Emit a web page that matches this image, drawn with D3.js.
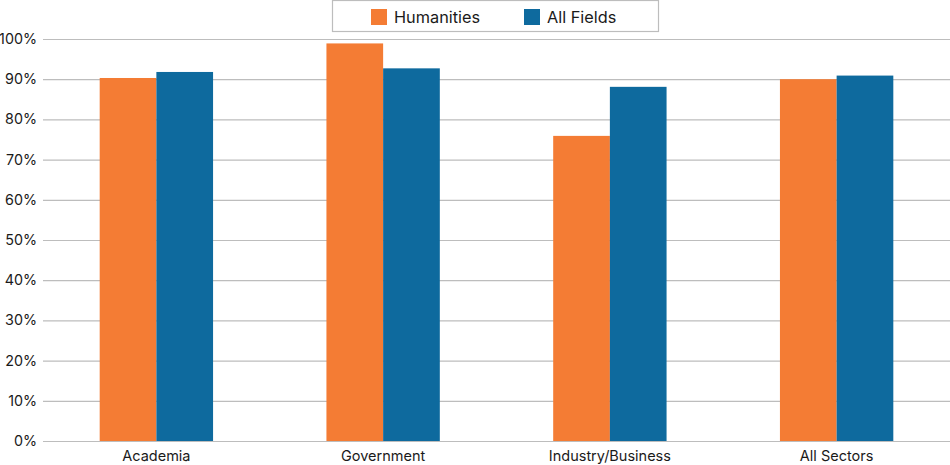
<!DOCTYPE html>
<html><head><meta charset="utf-8">
<script src="https://cdn.jsdelivr.net/npm/d3@7"></script>
<style>
body{margin:0;background:#fff;}
text{font-family:"Inter","Lato",sans-serif;fill:#1a1a1a;}
</style></head>
<body><svg id="c" width="950" height="465"></svg>
<script>
const categories = ["Academia","Government","Industry/Business","All Sectors"];
const seriesNames = ["Humanities","All Fields"];
const humanities = [90.3, 98.9, 75.9, 90.0];
const allFields = [91.8, 92.7, 88.1, 90.9];
const yTicks = [0,10,20,30,40,50,60,70,80,90,100];
const colors = ["#F47C34","#0E6A9E"];

(function(){
const svg = d3.select("#c");
const mLeft = 43, mRight = 950, mTop = 39, mBottom = 441;
const x = d3.scaleBand().domain(categories).range([mLeft,mRight]).paddingInner(0.5).paddingOuter(0.25);
const x1 = d3.scaleBand().domain(seriesNames).range([0,x.bandwidth()]);
const y = d3.scaleLinear().domain([0,100]).range([mBottom,mTop]);

svg.append("g").selectAll("line").data(yTicks).join("line")
  .attr("x1",mLeft).attr("x2",mRight)
  .attr("y1",d=>y(d)+0.5).attr("y2",d=>y(d)+0.5)
  .attr("stroke","#bdbdbd").attr("stroke-width",1.2);

svg.append("g").selectAll("text").data(yTicks).join("text")
  .attr("x",37).attr("y",d=>y(d)).attr("dy","0.35em")
  .attr("text-anchor","end").attr("font-size",14.3)
  .text(d=>d+"%");

const data = categories.map((c,i)=>({cat:c, vals:[humanities[i], allFields[i]]}));
const g = svg.append("g").selectAll("g").data(data).join("g")
  .attr("transform",d=>`translate(${x(d.cat)},0)`);
g.selectAll("rect").data(d=>d.vals.map((v,j)=>({v,s:seriesNames[j],j}))).join("rect")
  .attr("x",d=>x1(d.s)).attr("width",x1.bandwidth())
  .attr("y",d=>y(d.v)).attr("height",d=>y(0)-y(d.v))
  .attr("fill",d=>colors[d.j]);

svg.append("g").selectAll("text").data(categories).join("text")
  .attr("x",d=>x(d)+x.bandwidth()/2).attr("y",461)
  .attr("text-anchor","middle").attr("font-size",14.5)
  .text(d=>d);

const lg = svg.append("g");
lg.append("rect").attr("x",332.5).attr("y",0.5).attr("width",326).attr("height",31)
  .attr("fill","#fff").attr("stroke","#bdbdbd").attr("stroke-width",1.2);
const legX = [371, 524];
seriesNames.forEach((s,i)=>{
  lg.append("rect").attr("x",legX[i]).attr("y",9).attr("width",16).attr("height",16).attr("fill",colors[i]);
  lg.append("text").attr("x",legX[i]+23).attr("y",17).attr("dy","0.35em")
    .attr("font-size",16.3).text(s);
});
})();
</script></body></html>
